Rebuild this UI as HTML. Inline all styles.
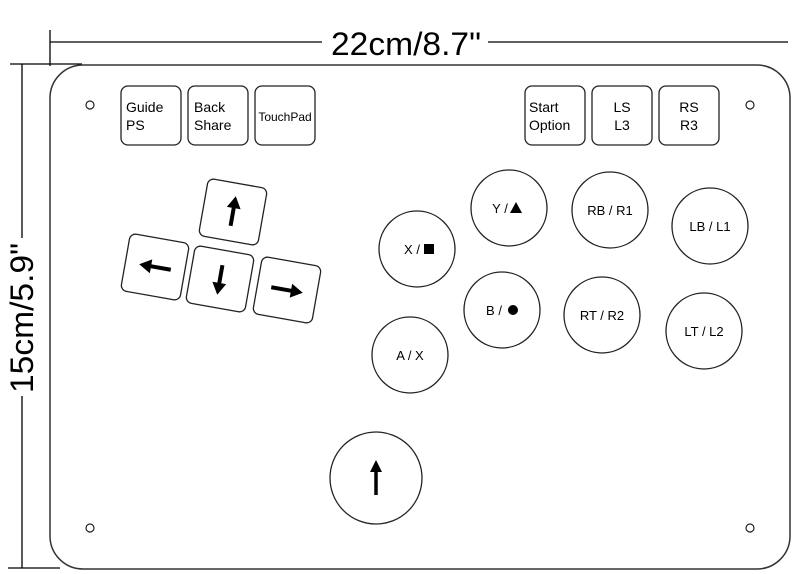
<!DOCTYPE html>
<html><head><meta charset="utf-8"><style>body{margin:0;background:#fff}svg{display:block}</style></head><body>
<svg width="800" height="574" viewBox="0 0 800 574" xmlns="http://www.w3.org/2000/svg" font-family="Liberation Sans, Arial, sans-serif">
<rect width="800" height="574" fill="#fff"/>
<g stroke="#000" stroke-width="1.3" fill="none">
<line x1="50" y1="30" x2="50" y2="66"/>
<line x1="50" y1="42" x2="322" y2="42"/>
<line x1="488" y1="42" x2="788" y2="42"/>
<line x1="10" y1="64" x2="82" y2="64"/>
<line x1="22" y1="64" x2="22" y2="238"/>
<line x1="22" y1="396" x2="22" y2="568"/>
<line x1="8" y1="568" x2="60" y2="568"/>
</g>
<text x="406" y="55" font-size="32" text-anchor="middle" textLength="150" lengthAdjust="spacingAndGlyphs">22cm/8.7"</text>
<text transform="translate(33,318) rotate(-90)" font-size="32" text-anchor="middle" textLength="150" lengthAdjust="spacingAndGlyphs">15cm/5.9"</text>
<rect x="50" y="65" width="740" height="504" rx="33" fill="none" stroke="#333" stroke-width="1.5"/>
<g fill="none" stroke="#222" stroke-width="1.2">
<circle cx="90" cy="105" r="4"/><circle cx="750" cy="105" r="4"/>
<circle cx="90" cy="528" r="4"/><circle cx="750" cy="528" r="4"/>
</g>
<g fill="#fff" stroke="#222" stroke-width="1.3">
<rect x="121" y="86" width="60" height="59" rx="7"/>
<rect x="188" y="86" width="60" height="59" rx="7"/>
<rect x="255" y="86" width="60" height="59" rx="7"/>
<rect x="525" y="86" width="60" height="59" rx="7"/>
<rect x="592" y="86" width="60" height="59" rx="7"/>
<rect x="659" y="86" width="60" height="59" rx="7"/>
</g>
<g font-size="14" fill="#000">
<text x="126" y="112">Guide</text><text x="126" y="130">PS</text>
<text x="194" y="112">Back</text><text x="194" y="130">Share</text>
<text x="285" y="121" font-size="12" text-anchor="middle">TouchPad</text>
<text x="529" y="112">Start</text><text x="529" y="130">Option</text>
<text x="622" y="112" text-anchor="middle">LS</text><text x="622" y="130" text-anchor="middle">L3</text>
<text x="689" y="112" text-anchor="middle">RS</text><text x="689" y="130" text-anchor="middle">R3</text>
</g>
<g fill="#fff" stroke="#222" stroke-width="1.3">
<g transform="translate(233,212) rotate(10)"><rect x="-30" y="-29" width="60" height="58" rx="6"/><path d="M0,14 L0,-6" stroke="#000" stroke-width="4"/><path d="M-7,-4 L0,-16 L7,-4 Z" fill="#000" stroke="none"/></g>
<g transform="translate(155,267) rotate(10)"><rect x="-30" y="-29" width="60" height="58" rx="6"/><path d="M16,0 L-6,0" stroke="#000" stroke-width="4"/><path d="M-4,-7 L-16,0 L-4,7 Z" fill="#000" stroke="none"/></g>
<g transform="translate(220,279) rotate(10)"><rect x="-30" y="-29" width="60" height="58" rx="6"/><path d="M0,-14 L0,6" stroke="#000" stroke-width="4"/><path d="M-7,4 L0,16 L7,4 Z" fill="#000" stroke="none"/></g>
<g transform="translate(287,290) rotate(10)"><rect x="-30" y="-29" width="60" height="58" rx="6"/><path d="M-16,0 L6,0" stroke="#000" stroke-width="4"/><path d="M4,-7 L16,0 L4,7 Z" fill="#000" stroke="none"/></g>
</g>
<g fill="#fff" stroke="#222" stroke-width="1.3">
<circle cx="417" cy="249" r="38"/><circle cx="509" cy="208" r="38"/>
<circle cx="610" cy="210" r="38"/><circle cx="710" cy="226" r="38"/>
<circle cx="502" cy="310" r="38"/><circle cx="602" cy="315" r="38"/>
<circle cx="704" cy="331" r="38"/><circle cx="410" cy="355" r="38"/>
<circle cx="376" cy="478" r="46"/>
</g>
<g font-size="13" fill="#000" text-anchor="middle">
<text x="412" y="254">X /</text><rect x="424" y="244" width="10" height="10" fill="#000"/>
<text x="500" y="213">Y /</text><path d="M510,213 L516,202 L522,213 Z" fill="#000"/>
<text x="610" y="215">RB / R1</text>
<text x="710" y="231">LB / L1</text>
<text x="494" y="315">B /</text><circle cx="513" cy="310" r="5" fill="#000"/>
<text x="602" y="320">RT / R2</text>
<text x="704" y="336">LT / L2</text>
<text x="410" y="360">A / X</text>
</g>
<path d="M376,495 L376,471" stroke="#000" stroke-width="3.5"/><path d="M370,472 L376,460 L382,472 Z" fill="#000"/>
</svg>
</body></html>
